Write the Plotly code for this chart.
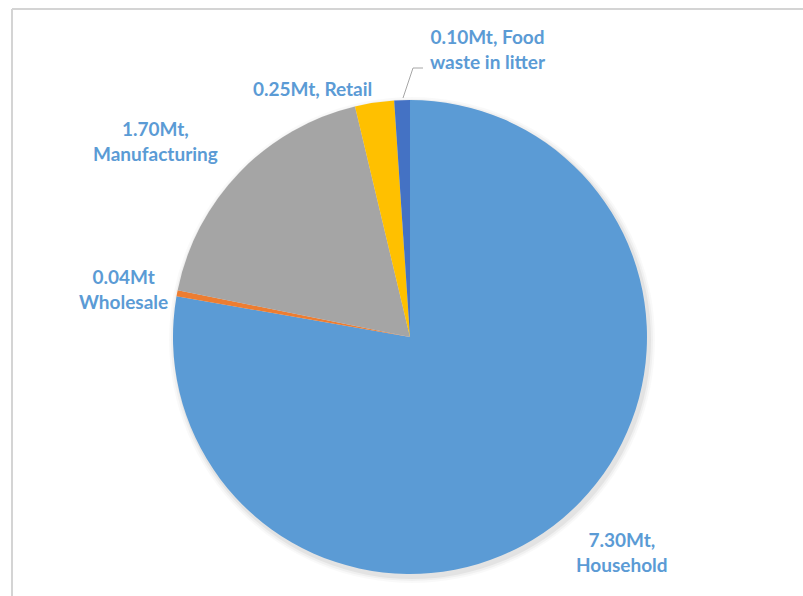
import plotly.graph_objects as go

# Food waste by sector (million tonnes)
sectors = ["Household", "Wholesale", "Manufacturing", "Retail", "Food waste in litter"]
tonnes = [7.30, 0.04, 1.70, 0.25, 0.10]
colors = ["#5b9bd5", "#ed7d31", "#a5a5a5", "#ffc000", "#4472c4"]

W, H = 803, 596
cx, cy, r = 410, 337, 237


def px(x):
    return x / W


def py(y):
    return 1 - y / H


fig = go.Figure(go.Pie(
    labels=sectors,
    values=tonnes,
    sort=False,
    direction="clockwise",
    rotation=0,
    marker=dict(colors=colors, line=dict(width=0)),
    textinfo="none",
    hoverinfo="label+value",
    showlegend=False,
    domain=dict(x=[px(cx - r), px(cx + r)], y=[py(cy + r), py(cy - r)]),
))

# soft drop shadow under the pie
for k, a in [(6, 0.025), (4, 0.035), (2, 0.05)]:
    fig.add_shape(type="circle", xref="paper", yref="paper", layer="below",
                  x0=px(cx - r - k + 2), x1=px(cx + r + k + 2),
                  y0=py(cy + r + k + 3), y1=py(cy - r - k + 3),
                  fillcolor=f"rgba(0,0,0,{a})", line=dict(width=0))

# label text: value + sector name, with line breaks where the sector label wraps
label_fmt = {
    "Household": "{v:.2f}Mt,<br>Household",
    "Wholesale": "{v:.2f}Mt<br>Wholesale",
    "Manufacturing": "{v:.2f}Mt,<br>Manufacturing",
    "Retail": "{v:.2f}Mt, Retail",
    "Food waste in litter": "{v:.2f}Mt, Food<br>waste in litter",
}
label_pos = {
    "Household": (622, 552),
    "Wholesale": (123, 289),
    "Manufacturing": (155, 141),
    "Retail": (312, 88),
    "Food waste in litter": (488, 49),
}

for name, val in zip(sectors, tonnes):
    x, y = label_pos[name]
    fig.add_annotation(
        x=px(x), y=py(y), xref="paper", yref="paper",
        xanchor="center", yanchor="middle",
        text=label_fmt[name].format(v=val),
        showarrow=False, align="center",
        font=dict(family="Lato", size=19, color="#5b9bd5", weight="bold"),
    )

# leader line for the small litter slice
fig.add_shape(type="path", xref="paper", yref="paper",
              path=f"M {px(403)} {py(98)} L {px(413)} {py(68)} L {px(423)} {py(68)}",
              line=dict(color="#a6a6a6", width=1))

# chart area frame (top and left edges)
fig.add_shape(type="line", xref="paper", yref="paper",
              x0=px(12), y0=py(9), x1=1, y1=py(9),
              line=dict(color="#d4d4d4", width=2))
fig.add_shape(type="line", xref="paper", yref="paper",
              x0=px(12), y0=py(9), x1=px(12), y1=0,
              line=dict(color="#d4d4d4", width=2))

fig.update_layout(
    width=W, height=H,
    margin=dict(l=0, r=0, t=0, b=0),
    paper_bgcolor="white",
    plot_bgcolor="white",
)

fig.write_html("out.html")
